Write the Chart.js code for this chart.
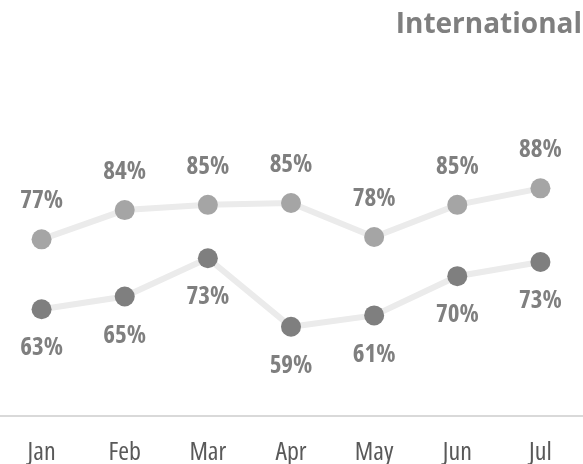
<!DOCTYPE html>
<html>
<head>
<meta charset="utf-8">
<script src="https://cdn.jsdelivr.net/npm/chart.js@4/dist/chart.umd.min.js"></script>
<style>
  html, body { margin: 0; padding: 0; background: #fff; }
  #wrap { width: 583px; height: 464px; position: relative; }
</style>
</head>
<body>
<div id="wrap"><canvas id="chart"></canvas></div>
<script>
// chart data (values estimated from the plot, labels show them rounded)
const months = ['Jan', 'Feb', 'Mar', 'Apr', 'May', 'Jun', 'Jul'];
const upperValues = [77.4, 83.6, 84.7, 85.1, 77.9, 84.7, 88.2];
const lowerValues = [62.6, 65.3, 73.4, 58.9, 61.3, 69.6, 72.6];

const FONT = "'Open Sans', sans-serif";

// draws the % labels above / below each point
const pointLabels = {
  id: 'pointLabels',
  afterDatasetsDraw(chart) {
    const ctx = chart.ctx;
    ctx.save();
    ctx.font = 'bold semi-condensed 25px ' + FONT;
    ctx.fillStyle = '#7f7f7f';
    ctx.textAlign = 'center';
    ctx.textBaseline = 'middle';
    chart.data.datasets.forEach((ds, di) => {
      const meta = chart.getDatasetMeta(di);
      meta.data.forEach((pt, i) => {
        const dy = ds.labelPos === 'above' ? -38 : 39;
        ctx.fillText(Math.round(ds.data[i]) + '%', pt.x, pt.y + dy);
      });
    });
    ctx.restore();
  }
};

const ctx = document.getElementById('chart').getContext('2d');
new Chart(ctx, {
  type: 'line',
  data: {
    labels: months,
    datasets: [{
      label: 'Upper',
      data: upperValues,
      labelPos: 'above',
      borderColor: '#ebebeb',
      borderWidth: 6,
      pointRadius: 10,
      pointHoverRadius: 10,
      pointBorderWidth: 0,
      pointBackgroundColor: '#a5a5a5',
      tension: 0
    }, {
      label: 'Lower',
      data: lowerValues,
      labelPos: 'below',
      borderColor: '#ebebeb',
      borderWidth: 6,
      pointRadius: 10,
      pointHoverRadius: 10,
      pointBorderWidth: 0,
      pointBackgroundColor: '#7f7f7f',
      tension: 0
    }]
  },
  options: {
    responsive: true, maintainAspectRatio: false,
    animation: false,
    layout: { autoPadding: false, padding: { left: -3, right: 1, top: 0, bottom: 0 } },
    plugins: {
      legend: { display: false },
      tooltip: { enabled: false },
      title: {
        display: true,
        text: 'International',
        align: 'end',
        color: '#7f7f7f',
        font: { family: FONT, size: 28, weight: 'bold', lineHeight: 1.2 },
        padding: { top: 8, bottom: 91 }
      }
    },
    scales: {
      x: {
        offset: true,
        grid: { display: false, drawTicks: false },
        border: { display: true, color: '#d9d9d9', width: 2 },
        ticks: {
          color: '#595959',
          padding: 24,
          font: { family: FONT, size: 26, weight: 'semi-condensed', lineHeight: 1 }
        },
        afterFit(scale) { scale.height = 48; }
      },
      y: {
        display: false,
        min: 40,
        max: 100
      }
    }
  },
  plugins: [pointLabels]
});
</script>
</body>
</html>
